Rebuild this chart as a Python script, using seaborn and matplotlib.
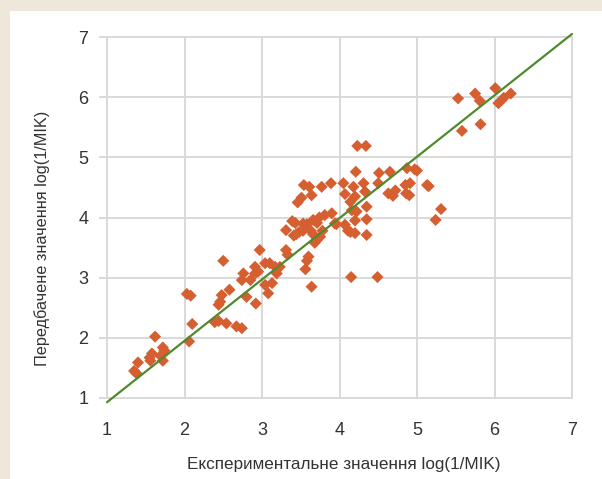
import matplotlib
matplotlib.use("Agg")
import matplotlib.pyplot as plt
import seaborn as sns
import pandas as pd
from matplotlib.patches import Rectangle

exp_vals = [1.35, 1.38, 1.40, 1.55, 1.58, 1.56, 1.62, 1.72, 1.74, 1.72, 1.69,
            2.03, 2.08, 2.10, 2.06, 2.39, 2.44, 2.54, 2.67, 2.74, 2.44, 2.46,
            2.48, 2.58, 2.50, 2.76, 2.74, 2.85, 2.91, 2.95, 2.80, 2.92, 2.91,
            2.97, 3.04, 3.10, 3.17, 3.23, 3.19, 3.04, 3.13, 3.08, 3.31, 3.33,
            3.31, 3.39, 3.43, 3.44, 3.46, 3.51, 3.54, 3.61, 3.64, 3.53, 3.53,
            3.58, 3.63, 3.66, 3.66, 3.68, 3.71, 3.75, 3.71, 3.74, 3.78, 3.81,
            3.77, 3.89, 3.90, 3.94, 3.96, 3.60, 3.58, 3.56, 3.64, 3.41, 3.48,
            4.05, 4.07, 4.07, 4.11, 4.14, 4.14, 4.16, 4.15, 4.21, 4.23, 4.34,
            4.18, 4.20, 4.31, 4.33, 4.20, 4.22, 4.20, 4.35, 4.35, 4.35, 4.49,
            4.50, 4.51, 4.65, 4.63, 4.72, 4.69, 4.85, 4.86, 4.87, 4.91, 4.90,
            4.97, 5.00, 5.13, 5.15, 5.24, 5.31,
            5.53, 5.58, 5.75, 5.81, 5.82, 6.01, 6.05, 6.09, 6.12, 6.21]
pred_vals = [1.45, 1.41, 1.59, 1.67, 1.74, 1.62, 2.02, 1.84, 1.79, 1.62, 1.70,
             2.73, 2.70, 2.23, 1.94, 2.26, 2.28, 2.24, 2.19, 2.16, 2.55, 2.60,
             2.71, 2.80, 3.28, 3.07, 2.96, 2.96, 3.07, 3.10, 2.68, 2.57, 3.18,
             3.46, 3.24, 3.24, 3.18, 3.18, 3.07, 2.88, 2.91, 2.74, 3.46, 3.38,
             3.79, 3.94, 3.91, 3.72, 4.25, 4.33, 4.54, 4.51, 4.37, 3.78, 3.90,
             3.89, 3.78, 3.72, 3.96, 3.58, 3.63, 3.68, 3.91, 4.00, 3.78, 4.04,
             4.51, 4.57, 4.07, 3.90, 3.89, 3.35, 3.28, 3.14, 2.85, 3.70, 3.76,
             4.57, 4.39, 3.88, 3.78, 3.76, 4.26, 4.12, 3.01, 4.76, 5.19, 5.19,
             4.51, 4.35, 4.57, 4.43, 3.95, 4.10, 3.74, 4.18, 3.97, 3.71, 3.01,
             4.57, 4.74, 4.76, 4.40, 4.45, 4.36, 4.54, 4.40, 4.82, 4.57, 4.37,
             4.80, 4.78, 4.54, 4.52, 3.96, 4.14,
             5.98, 5.44, 6.06, 5.94, 5.55, 6.15, 5.90, 5.95, 5.99, 6.06]

fit_x = [1.0, 7.0]
fit_y = [0.93, 7.05]

ticks = [1, 2, 3, 4, 5, 6, 7]
xlabel = "Експериментальне значення log(1/MIK)"
ylabel = "Передбачене значення log(1/MIK)"

df = pd.DataFrame({"exp": exp_vals, "pred": pred_vals})
fit_df = pd.DataFrame({"x": fit_x, "y": fit_y})

sns.set_theme(style="white")
plt.rcParams['font.family'] = ['Liberation Sans', 'DejaVu Sans']

fig = plt.figure(figsize=(6.02, 4.79), dpi=100, facecolor="#EFE8DA")
fig.patches.append(Rectangle((10 / 602, 0), 1, 1 - 11 / 479, transform=fig.transFigure,
                             facecolor="white", edgecolor="none", zorder=-5))
ax = fig.add_axes([107 / 602, 1 - 398 / 479, 465 / 602, 361 / 479])
ax.set_facecolor("white")

sns.scatterplot(data=df, x="exp", y="pred", marker="D", s=38, color="#D65F31",
                edgecolor="none", linewidth=0, ax=ax, zorder=3)
sns.lineplot(data=fit_df, x="x", y="y", color="#4F8A2E", linewidth=1.6, ax=ax,
             zorder=4, clip_on=False)

ax.set_xlim(1, 7)
ax.set_ylim(1, 7)
ax.set_xticks(ticks)
ax.set_yticks(ticks)
ax.grid(True, color="#D9D9D9", linewidth=1.4)
ax.set_axisbelow(True)
for sp in ax.spines.values():
    sp.set_visible(False)
ax.tick_params(axis="y", length=6, width=1.4, color="#D9D9D9", pad=7.5,
               labelsize=13, labelcolor="#333333", left=True)
ax.tick_params(axis="x", length=0, pad=17, labelsize=13, labelcolor="#333333")
for gl in ax.xaxis.get_gridlines() + ax.yaxis.get_gridlines():
    gl.set_clip_on(False)

ax.set_xlabel(xlabel, fontsize=12.3, color="#333333")
ax.set_ylabel(ylabel, fontsize=11.7, color="#333333")
ax.xaxis.set_label_coords(0.5 + 4.5 / 465, -(457 - 398) / 361)
ax.yaxis.set_label_coords(-(107 - 50) / 465, 1 - (238 - 37) / 361)

fig.savefig("out.png", dpi=100, facecolor=fig.get_facecolor())
